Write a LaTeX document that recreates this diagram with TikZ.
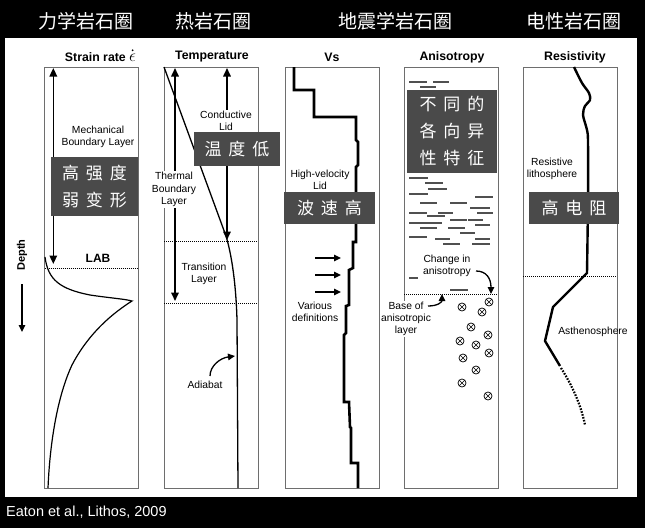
\documentclass[tikz,border=0pt]{standalone}
\usepackage{fontspec}
\setmainfont{Liberation Sans}
\newfontfamily\cjk{Noto Sans CJK SC}
\usetikzlibrary{arrows.meta,shapes.geometric}
\definecolor{boxgray}{RGB}{74,74,74}
\definecolor{panelline}{RGB}{110,110,110}
\definecolor{dashgray}{RGB}{80,80,80}
\begin{document}
\begin{tikzpicture}[x=1pt,y=-1pt,
  panel/.style={draw=panelline,line width=0.8pt},
  ttl/.style={font=\bfseries\fontsize{12.3}{14}\selectfont,inner sep=0pt},
  lbl/.style={font=\fontsize{10.3}{12.3}\selectfont,align=center,inner sep=1pt},
  wlbl/.style={lbl,fill=white},
  hdr/.style={font=\cjk\fontsize{19}{22}\selectfont,text=white,inner sep=0pt},
  cbox/.style={fill=boxgray,text=white,font=\cjk\fontsize{17}{27}\selectfont,align=center,inner sep=0pt},
  dbl/.style={line width=1.6pt,{Triangle[length=8.5pt,width=7.5pt]}-{Triangle[length=8.5pt,width=7.5pt]}},
  sarr/.style={line width=1.4pt,-{Triangle[length=7pt,width=6.5pt]}},
  dots/.style={line width=0.6pt,dash pattern=on 1pt off 1pt},
  dsh/.style={draw=dashgray,line width=1.2pt},
  ox/.style={circle,draw,line width=0.7pt,minimum size=8pt,inner sep=0pt}
]
\useasboundingbox (0,0) rectangle (645,528);
\fill[black] (0,0) rectangle (645,528);
\fill[white] (5,38) rectangle (637,497);

% headers
\node[hdr] (h1) at (86,21) {力学岩石圈};
\node[hdr] (h2) at (213,21) {热岩石圈};
\node[hdr] (h3) at (395,21) {地震学岩石圈};
\node[hdr] (h4) at (574,21) {电性岩石圈};
\node[font=\fontsize{14.5}{16}\selectfont,text=white,anchor=west,inner sep=0pt] (src) at (6,512) {Eaton et al., Lithos, 2009};

% panels
\draw[panel] (44.7,67) rectangle (138.7,488);
\draw[panel] (164,67) rectangle (258,488);
\draw[panel] (285.7,67) rectangle (379,488);
\draw[panel] (404,67) rectangle (498,488);
\draw[panel] (523,67) rectangle (617,488);

% titles
\node[ttl,anchor=base east] (t1) at (126,61) {Strain rate};
\node[anchor=base west,inner sep=0pt,font=\fontsize{16}{16}\selectfont] (t1e) at (129,61) {$\epsilon$};
\fill ([yshift=3pt]t1e.north) circle (1pt);
\node[ttl] (t2) at (212,57) {Temperature};
\node[ttl] (t3) at (332,57) {Vs};
\node[ttl] (t4) at (452,57) {Anisotropy};
\node[ttl] (t5) at (575,57) {Resistivity};

% depth
\node[font=\bfseries\fontsize{11}{13}\selectfont,rotate=90,inner sep=0pt] (depth) at (22,255) {Depth};
\coordinate (d1) at (22,284);
\coordinate (d2) at (22,332);
\draw[sarr,line width=1.6pt] (d1) -- (d2);

% ---------- panel 1
\coordinate (a1t) at (53.3,68);
\coordinate (a1b) at (53.3,264);
\draw[dbl] (a1t) -- (a1b);
\node[lbl] (mbl) at (98,136.5) {Mechanical\\Boundary Layer};
\node[font=\bfseries\fontsize{12}{14}\selectfont,inner sep=0pt] (lab) at (98,258) {LAB};
\draw[dots] (44.7,268) -- (138.7,268);
\draw[line width=1.2pt] (45,257) .. controls (48,280) and (60,289) .. (90,295)
  .. controls (110,298) and (125,299) .. (132,301)
  .. controls (105,318) and (85,340) .. (72,365)
  .. controls (58,395) and (50,440) .. (48,488);
\node[cbox,minimum width=87pt,minimum height=59pt] (b1) at (94.5,186.5) {高\hspace{7pt}强\hspace{7pt}度\\弱\hspace{7pt}变\hspace{7pt}形};

% ---------- panel 2
\draw[line width=1.3pt] (164,67) -- (226,236) .. controls (232,256) and (236,285) .. (237,320) -- (238,488);
\coordinate (a2t) at (175,68);
\coordinate (a2b) at (175,301);
\draw[dbl] (a2t) -- (a2b);
\coordinate (a3t) at (227,68);
\coordinate (a3b) at (227,240);
\draw[dbl] (a3t) -- (a3b);
\node[wlbl] (tbl) at (174,189.5) {Thermal\\Boundary\\Layer};
\node[wlbl] (cl) at (226,121) {Conductive\\Lid};
\draw[dots] (164,241) -- (258,241);
\node[lbl] (tl) at (204,274) {Transition\\Layer};
\draw[dots] (164,303) -- (258,303);
\node[lbl] (adi) at (205,385) {Adiabat};
\coordinate (adA) at (210,376);
\coordinate (adB) at (235,356);
\draw[sarr,line width=1.3pt] (adA) .. controls (210,366) and (220,358) .. (adB);
\node[cbox,minimum width=86pt,minimum height=34pt] (b2) at (237,149) {温\hspace{7pt}度\hspace{7pt}低};

% ---------- panel 3
\draw[line width=2.6pt,miter limit=2] (294,67) -- (294,90) -- (314,90) -- (314,117) -- (356,117) -- (356,140) -- (358,142) -- (358,165) -- (356,167) -- (356,242) -- (353,242) -- (353,268) -- (349,270) -- (349,305) -- (346,306) -- (346,333) -- (344,335) -- (344,402) -- (349,402) -- (350,427) -- (351,428) -- (351,463) -- (358,463) -- (358,488);
\node[lbl] (hvl) at (320,179.5) {High-velocity\\Lid};
\node[cbox,minimum width=91pt,minimum height=32pt] (b3) at (329.5,208) {波\hspace{7pt}速\hspace{7pt}高};
\foreach \yy [count=\i] in {258,275,292} {
  \coordinate (va\i) at (315,\yy);
  \coordinate (vb\i) at (341,\yy);
  \draw[sarr] (va\i) -- (vb\i);
}
\node[lbl] (vd) at (315,312) {Various\\definitions};

% ---------- panel 4
\foreach \xa/\xb/\yy in {409/427/82, 433/449/82, 420/436/87,
  409/428/178, 425/443/183, 428/447/189, 409/428/194, 475/493/197,
  420/437/203, 450/467/203, 470/490/208, 409/427/213, 438/453/213, 477/493/213,
  427/445/216, 450/467/220, 468/483/220, 409/425/223, 425/442/223, 475/490/225,
  420/437/228, 448/465/228, 460/475/233, 409/427/237, 435/450/239, 475/490/239,
  443/460/244, 472/490/244, 409/418/278, 450/468/290}
  \draw[dsh] (\xa,\yy) -- (\xb,\yy);
\node[cbox,minimum width=90pt,minimum height=83pt] (b4) at (452,131.5) {不\hspace{7pt}同\hspace{7pt}的\\各\hspace{7pt}向\hspace{7pt}异\\性\hspace{7pt}特\hspace{7pt}征};
\node[lbl] (cia) at (447,265.5) {Change in\\anisotropy};
\coordinate (ca1) at (476,271);
\coordinate (ca2) at (491,294);
\draw[sarr,line width=1.3pt] (ca1) .. controls (486,271) and (491,278) .. (ca2);
\draw[dots] (404,294) -- (498,294);
\node[lbl,fill=white] (bal) at (406,319) {Base of\\anisotropic\\layer};
\coordinate (ba1) at (428,306);
\coordinate (ba2) at (442,294);
\draw[sarr,line width=1.3pt] (ba1) .. controls (438,306) and (442,302) .. (ba2);
\foreach \xx/\yy [count=\i] in {489/302, 462/307, 482/312, 471/327, 488/335, 460/341, 476/345, 489/353, 463/358, 476/370, 462/383, 488/396} {
  \node[ox] (o\i) at (\xx,\yy) {};
  \draw[line width=0.6pt] (o\i.north east) -- (o\i.south west) (o\i.north west) -- (o\i.south east);
}

% ---------- panel 5
\draw[line width=2.4pt,line join=round] plot[smooth,tension=0.5] coordinates {(574,67) (582,83) (589,93) (590,100) (585,106) (583,115) (587,130) (588,142) (588,200) (587,273)} -- (553,307) -- (545,341) -- (560,366);
\draw[line width=2.2pt,dash pattern=on 1.6pt off 1.4pt] (561,368) .. controls (572,385) and (581,405) .. (585,425);
\draw[dots] (523,276) -- (617,276);
\node[lbl] (rl) at (552,169) {Resistive\\lithosphere};
\node[lbl] (asth) at (593,332) {Asthenosphere};
\node[cbox,minimum width=90pt,minimum height=32pt] (b5) at (574,208) {高\hspace{7pt}电\hspace{7pt}阻};
\end{tikzpicture}
\end{document}
